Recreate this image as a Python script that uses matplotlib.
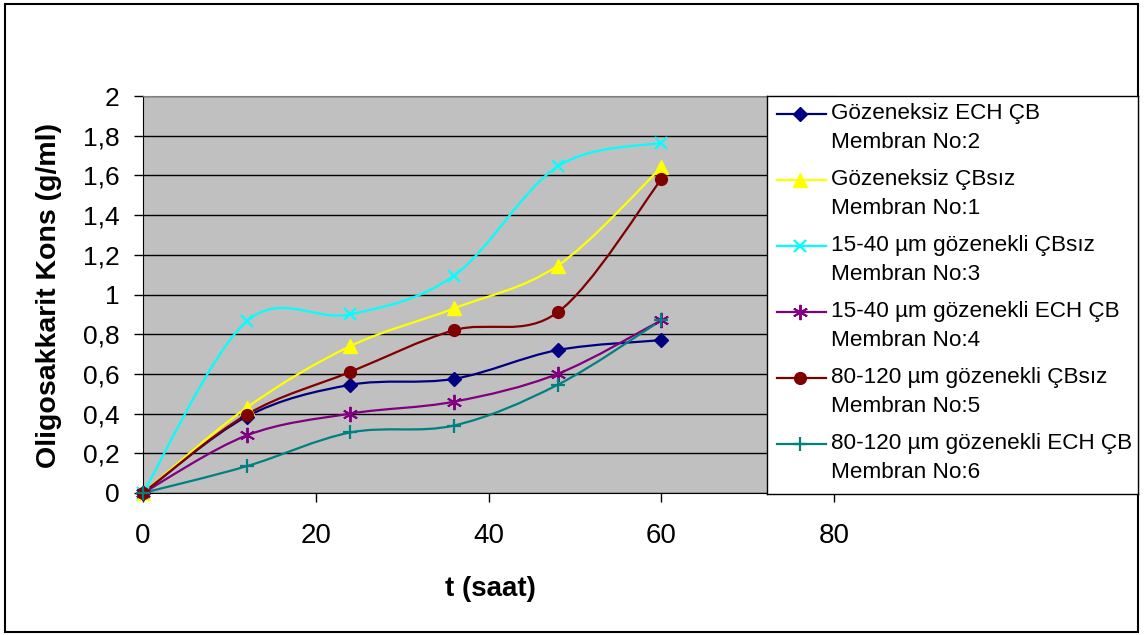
import numpy as np
import matplotlib.pyplot as plt
from matplotlib.path import Path
from matplotlib.patches import PathPatch, Rectangle
from matplotlib.lines import Line2D

plt.rcParams['font.family'] = ['Liberation Sans', 'DejaVu Sans']

# zaman (saat) ve membranlara göre oligosakkarit konsantrasyonu (g/ml)
saat = [0, 12, 24, 36, 48, 60]
membran_2 = [0, 0.385, 0.545, 0.575, 0.72, 0.77]
membran_1 = [0, 0.43, 0.74, 0.93, 1.145, 1.64]
membran_3 = [0, 0.865, 0.90, 1.095, 1.645, 1.765]
membran_4 = [0, 0.29, 0.40, 0.46, 0.60, 0.87]
membran_5 = [0, 0.395, 0.61, 0.82, 0.91, 1.58]
membran_6 = [0, 0.135, 0.305, 0.34, 0.545, 0.87]

etiketler = ['Gözeneksiz ECH ÇB\nMembran No:2',
             'Gözeneksiz ÇBsız\nMembran No:1',
             '15-40 µm gözenekli ÇBsız\nMembran No:3',
             '15-40 µm gözenekli ECH ÇB\nMembran No:4',
             '80-120 µm gözenekli ÇBsız\nMembran No:5',
             '80-120 µm gözenekli ECH ÇB\nMembran No:6']

x_ticks = [0, 20, 40, 60, 80]
y_ticks = [0, 0.2, 0.4, 0.6, 0.8, 1.0, 1.2, 1.4, 1.6, 1.8, 2.0]
y_tick_labels = ['0', '0,2', '0,4', '0,6', '0,8', '1', '1,2', '1,4', '1,6', '1,8', '2']

seriler = [membran_2, membran_1, membran_3, membran_4, membran_5, membran_6]
renkler = ['#000080', '#FFFF00', '#00FFFF', '#800080', '#800000', '#008080']
isaretler = [dict(marker='D', ms=7.5),
             dict(marker='^', ms=10),
             dict(marker='x', ms=9, mew=1.6),
             dict(marker=(6, 2, 0), ms=11, mew=1.4),
             dict(marker='o', ms=8.5),
             dict(marker='+', ms=10, mew=1.6)]


def yumusak_egri(x, y):
    # Excel tarzı yumuşatılmış çizgi: noktalar arası kübik Bezier parçaları
    p = np.column_stack([x, y]).astype(float)
    n = len(p)
    verts, codes = [p[0]], [Path.MOVETO]
    for i in range(n - 1):
        p0, p1 = p[max(i - 1, 0)], p[i]
        p2, p3 = p[i + 1], p[min(i + 2, n - 1)]
        verts += [p1 + (p2 - p0) / 6, p2 - (p3 - p1) / 6, p2]
        codes += [Path.CURVE4] * 3
    return Path(verts, codes)


W, H = 1144, 635
fig = plt.figure(figsize=(W / 100, H / 100), dpi=100)
ax = fig.add_axes([143 / W, 1 - 493 / H, (834 - 143) / W, (493 - 96) / H])
ax.set_facecolor('#C0C0C0')

for y, c, m in zip(seriler, renkler, isaretler):
    ax.add_patch(PathPatch(yumusak_egri(saat, y), fill=False, ec=c, lw=1.6, zorder=3))
    ax.plot(saat, y, ls='none', color=c, mec=c, zorder=4, clip_on=False, **m)

ax.set_xlim(0, 80)
ax.set_ylim(0, 2)
ax.set_xticks(x_ticks)
ax.set_yticks(y_ticks)
ax.set_yticklabels(y_tick_labels)
ax.tick_params(direction='out', length=6.5, width=1, colors='black')
ax.tick_params(axis='x', labelsize=20, pad=15)
ax.tick_params(axis='y', labelsize=19, pad=10.5)
ax.grid(axis='y', color='black', lw=1)
ax.set_axisbelow(True)
for s in ['left', 'bottom']:
    ax.spines[s].set_color('black')
for s in ['top', 'right']:
    ax.spines[s].set_color('#808080')

fig.text(49 / W, 1 - 295 / H, 'Oligosakkarit Kons (g/ml)', rotation=90,
         ha='center', va='center', fontsize=20.5, fontweight='bold')
fig.text(490 / W, 1 - 589 / H, 't (saat)', ha='center', va='center',
         fontsize=20, fontweight='bold')

# açıklama kutusu (piksel koordinatlarında)
lx0, ly0, lx1, ly1 = 767, 96, 1138, 494
lax = fig.add_axes([lx0 / W, 1 - ly1 / H, (lx1 - lx0) / W, (ly1 - ly0) / H])
lax.set_zorder(5)
lax.set_xlim(0, lx1 - lx0)
lax.set_ylim(ly1 - ly0, 0)
lax.set_xticks([])
lax.set_yticks([])
for s in lax.spines.values():
    s.set_color('black')
    s.set_linewidth(1)
for i, (lab, c, m) in enumerate(zip(etiketler, renkler, isaretler)):
    yy = 18 + 66 * i
    lax.add_line(Line2D([10, 59], [yy, yy], color=c, lw=1.6))
    lax.plot([33], [yy], ls='none', color=c, mec=c, **m)
    satir1, satir2 = lab.split('\n')
    lax.text(64, yy - 1, satir1, va='center', fontsize=16.2)
    lax.text(64, yy + 28, satir2, va='center', fontsize=16.2)

fig.add_artist(Rectangle((5 / W, 1 - 632 / H), (1138 - 5) / W, (632 - 4) / H,
                         transform=fig.transFigure, fill=False, ec='black', lw=1.5))

fig.savefig('out.png', dpi=100)
